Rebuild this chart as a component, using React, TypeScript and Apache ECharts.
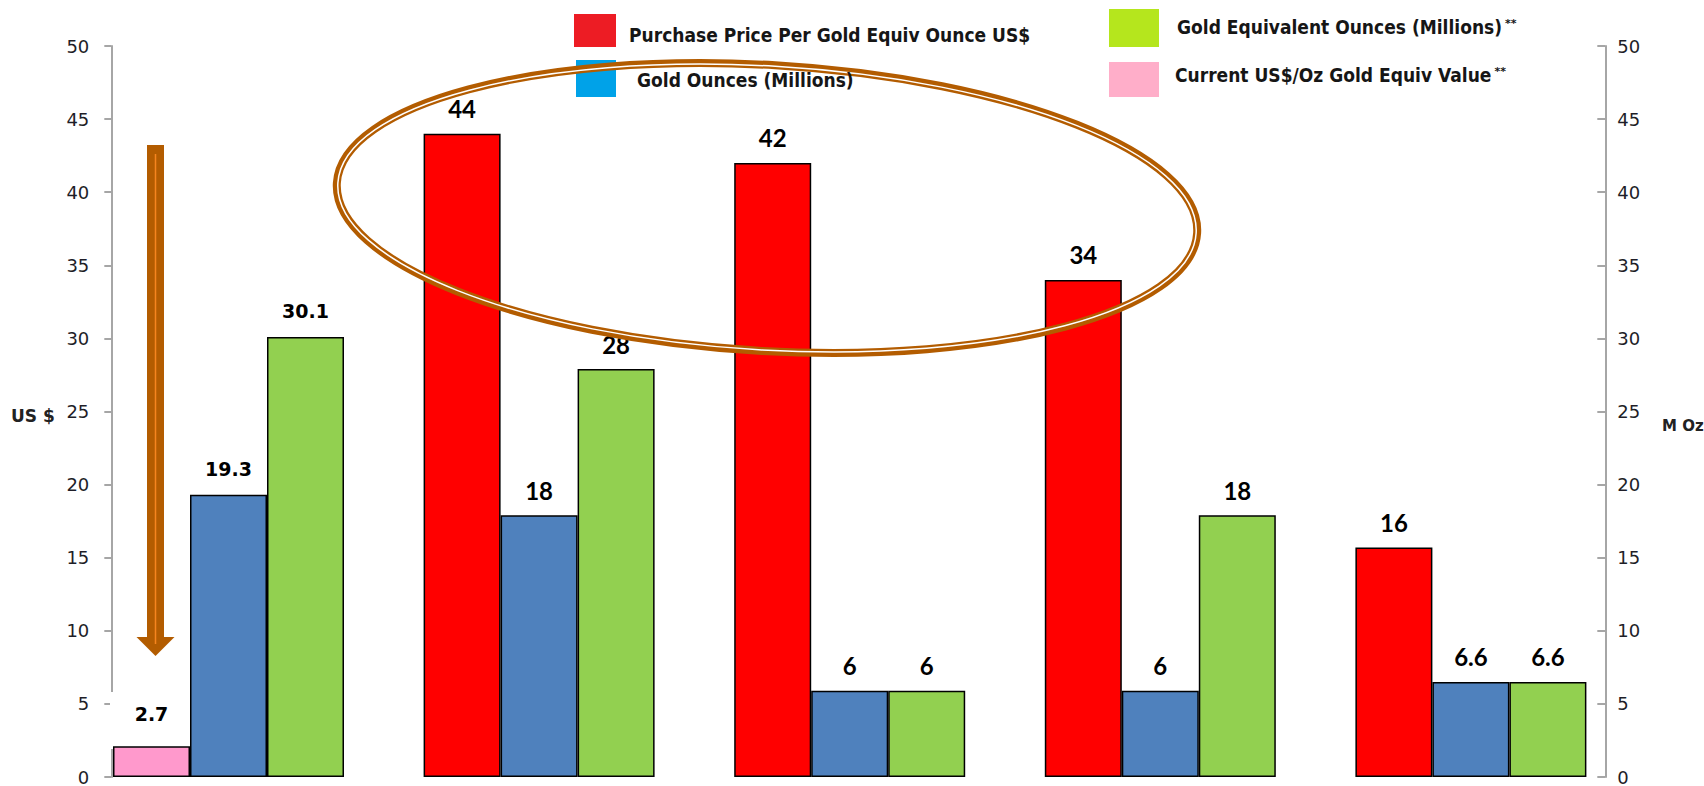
import React, { useEffect, useRef } from "react";
import * as echarts from "echarts";

// ---- data ----
const categories = ["Group 1", "Group 2", "Group 3", "Group 4", "Group 5"];
const purchasePrice = [null, 44, 42, 34, 15.7];
const purchasePriceLabels = ["", "44", "42", "34", "16"];
const currentValue = [2.1, null, null, null, null];
const currentValueLabels = ["2.7", "", "", "", ""];
const goldOunces = [19.3, 17.9, 5.9, 5.9, 6.5];
const goldOuncesLabels = ["19.3", "18", "6", "6", "6.6"];
const goldEquivOunces = [30.1, 27.9, 5.9, 17.9, 6.5];
const goldEquivLabels = ["30.1", "28", "6", "18", "6.6"];
const yTicks = { min: 0, max: 50, interval: 5 };
const legendItems = [
  "Purchase Price Per Gold Equiv Ounce US$",
  "Gold Ounces (Millions)",
  "Gold Equivalent Ounces (Millions)",
  "Current US$/Oz Gold Equiv Value",
];
const legendNotes = ["", "", "**", "**"];
const axisNames = ["US $", "M Oz"];

const BROWN = "#B35C00";
const LABEL_FONT = 'Lato, "Open Sans", sans-serif';
const WIDE_FONT = '"DejaVu Sans", Verdana, sans-serif';
const LEGEND_FONT = '"Liberation Sans Narrow", "Arial Narrow", "DejaVu Sans Condensed", sans-serif';

function makeData(values: (number | null)[], extra?: any) {
  return values.map((v, i) => {
    if (v === null) return null;
    if (i === 0) {
      return {
        value: v,
        label: {
          fontFamily: WIDE_FONT,
          fontSize: 19,
          distance: 16,
          ...(extra || {}),
        },
      };
    }
    return v;
  });
}

function makeSeries(name: string, values: (number | null)[], labels: string[], color: string, stack?: string, extra?: any) {
  return {
    type: "bar",
    name,
    stack,
    barWidth: 77,
    barGap: "0%",
    data: makeData(values, extra),
    itemStyle: { color, borderColor: "#000", borderWidth: 1.5 },
    label: {
      show: true,
      position: "top",
      distance: 13,
      color: "#000",
      fontFamily: LABEL_FONT,
      fontWeight: "bold",
      fontSize: 24,
      formatter: (p: any) => labels[p.dataIndex],
    },
    z: 2,
  };
}

export default function App() {
  const ref = useRef<HTMLDivElement>(null);
  useEffect(() => {
    if (!ref.current) return;
    const chart = echarts.init(ref.current, null, { renderer: "svg" });
    const axisLabelStyle = { color: "#1e1e28", fontFamily: WIDE_FONT, fontSize: 18 };
    const legendText = (idx: number, x: number, y: number) => ({
      type: "text",
      x,
      y,
      z: 110,
      style: {
        text: legendNotes[idx] ? `{t|${legendItems[idx]}}{s|${legendNotes[idx]}}` : `{t|${legendItems[idx]}}`,
        rich: {
          t: { font: `bold 19px ${LEGEND_FONT}`, fill: "#161616" },
          s: { font: `bold 11px ${WIDE_FONT}`, fill: "#161616", padding: [0, 0, 8, 3] },
        },
        align: "left",
        verticalAlign: "middle",
      },
    });
    const ellipseBase = { type: "ellipse", x: 767, y: 208, rotation: -0.058 };
    chart.setOption({
      animation: false,
      backgroundColor: "#fff",
      grid: { left: 73.2, right: 77.8, top: 46, bottom: 4, containLabel: false },
      xAxis: {
        type: "category",
        data: categories,
        axisLine: { show: false },
        axisTick: { show: false },
        axisLabel: { show: false },
        splitLine: { show: false },
      },
      yAxis: [
        {
          type: "value",
          position: "left",
          offset: -38.1,
          min: yTicks.min,
          max: yTicks.max,
          interval: yTicks.interval,
          axisLine: { show: true, lineStyle: { color: "#A6A6A6", width: 2 } },
          axisTick: { show: true, length: 7, lineStyle: { color: "#A6A6A6", width: 2 } },
          axisLabel: { ...axisLabelStyle, margin: 22 },
          splitLine: { show: false },
        },
        {
          type: "value",
          position: "right",
          offset: -20.9,
          min: yTicks.min,
          max: yTicks.max,
          interval: yTicks.interval,
          axisLine: { show: true, lineStyle: { color: "#A6A6A6", width: 2 } },
          axisTick: { show: true, inside: true, length: 8, lineStyle: { color: "#A6A6A6", width: 2 } },
          axisLabel: { ...axisLabelStyle, margin: 12 },
          splitLine: { show: false },
        },
      ],
      series: [
        makeSeries(legendItems[0], purchasePrice, purchasePriceLabels, "#FF0000", "slot1"),
        makeSeries(legendItems[3], currentValue, currentValueLabels, "#FF99CC", "slot1", { distance: 23 }),
        makeSeries(legendItems[1], goldOunces, goldOuncesLabels, "#4F81BD"),
        makeSeries(legendItems[2], goldEquivOunces, goldEquivLabels, "#92D050"),
      ],
      graphic: [
        // white box behind "2.7" label covering the axis line
        { type: "rect", z: 1, shape: { x: 110, y: 692, width: 78, height: 57 }, style: { fill: "#fff" } },
        // axis names
        {
          type: "text", x: 11, y: 416, z: 110,
          style: { text: axisNames[0], font: `bold 17px ${WIDE_FONT}`, fill: "#222", align: "left", verticalAlign: "middle" },
        },
        {
          type: "text", x: 1662, y: 426, z: 110,
          style: { text: axisNames[1], font: `bold 15px ${WIDE_FONT}`, fill: "#222", align: "left", verticalAlign: "middle" },
        },
        // legend
        { type: "rect", z: 50, shape: { x: 574, y: 14, width: 42, height: 33 }, style: { fill: "#ED1C24" } },
        legendText(0, 629, 35),
        { type: "rect", z: 50, shape: { x: 576, y: 60, width: 40, height: 37 }, style: { fill: "#00A2E8" } },
        legendText(1, 637, 80),
        { type: "rect", z: 50, shape: { x: 1109, y: 9, width: 50, height: 38 }, style: { fill: "#B5E61D" } },
        legendText(2, 1177, 27),
        { type: "rect", z: 50, shape: { x: 1109, y: 62, width: 50, height: 35 }, style: { fill: "#FFAEC9" } },
        legendText(3, 1175, 75),
        // ellipse annotation (double line: thick outer, thin inner)
        {
          ...ellipseBase, z: 100, shape: { cx: 0, cy: 0, rx: 431, ry: 143 },
          style: { fill: "transparent", stroke: BROWN, lineWidth: 8 },
        },
        {
          ...ellipseBase, z: 101, shape: { cx: 0, cy: 0, rx: 430, ry: 142 },
          style: { fill: "transparent", stroke: "#fff", lineWidth: 1.5 },
        },
        // down arrow
        {
          type: "polygon", z: 100,
          shape: {
            points: [
              [147, 145], [164, 145], [164, 637], [174.5, 637],
              [155.5, 656], [136.5, 637], [147, 637],
            ],
          },
          style: { fill: BROWN },
        },
        {
          type: "line", z: 101,
          shape: { x1: 155.5, y1: 154, x2: 155.5, y2: 644 },
          style: { stroke: "#F5851F", lineWidth: 1.5 },
        },
      ],
    });
    return () => chart.dispose();
  }, []);
  return (
    <div
      ref={ref}
      style={{ position: "absolute", left: 0, top: 0, width: 1704, height: 786, background: "#fff" }}
    />
  );
}
